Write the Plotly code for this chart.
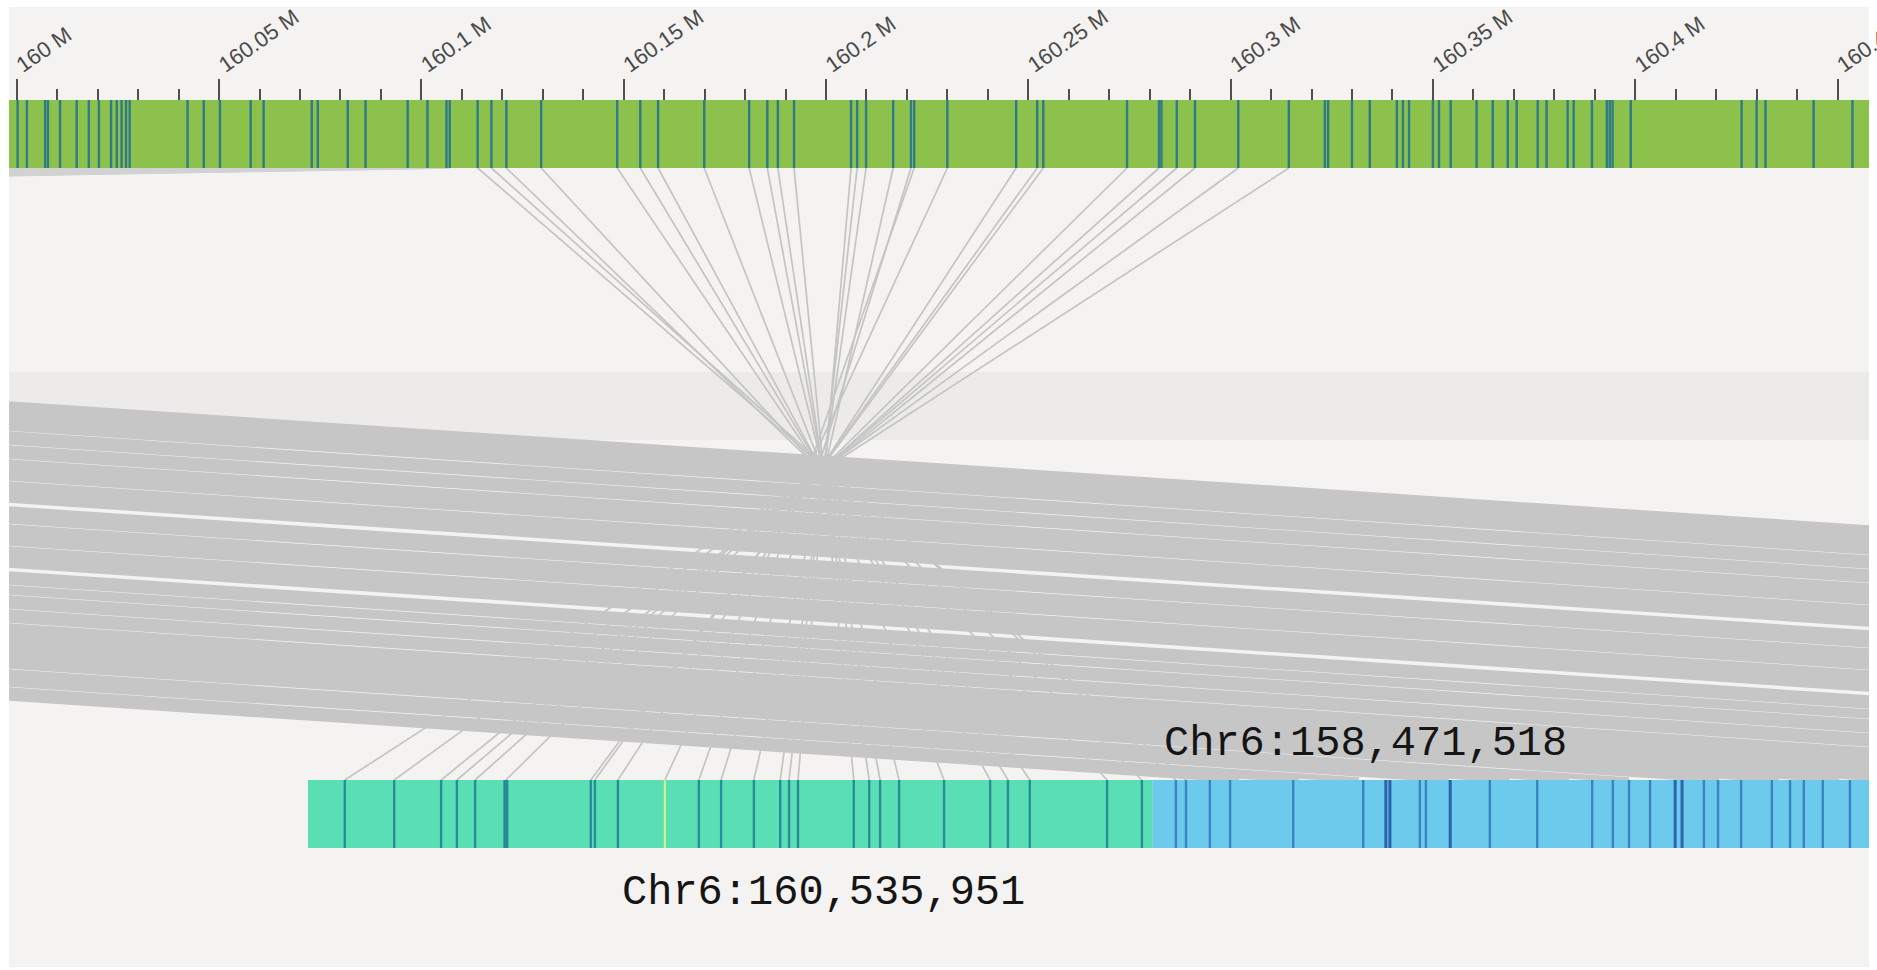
import plotly.graph_objects as go

# ---------------- data ----------------
# top track (Mb) – gene positions (dark stripes)
top_genes_mb = [160.0002, 160.0025, 160.0070, 160.0077, 160.0107, 160.0148, 160.0178, 160.0203,
                160.0233, 160.0247, 160.0259, 160.0270, 160.0279, 160.0422, 160.0462, 160.0502,
                160.0578, 160.0610, 160.0729, 160.0744, 160.0818, 160.0862, 160.0966, 160.1015,
                160.1062, 160.1070, 160.1139, 160.1173, 160.1210, 160.1296, 160.1484, 160.1541,
                160.1585, 160.1699, 160.1810, 160.1855, 160.1881, 160.1921, 160.2062, 160.2077,
                160.2099, 160.2166, 160.2210, 160.2218, 160.2300, 160.2470, 160.2522, 160.2537,
                160.2744, 160.2823, 160.2829, 160.2867, 160.2912, 160.3019, 160.3144, 160.3233,
                160.3241, 160.3300, 160.3344, 160.3411, 160.3426, 160.3441, 160.3500, 160.3515,
                160.3544, 160.3608, 160.3648, 160.3685, 160.3707, 160.3759, 160.3781, 160.3833,
                160.3848, 160.3893, 160.3930, 160.3937, 160.3944, 160.3989, 160.4263, 160.4300,
                160.4322, 160.4441, 160.4537]

# bottom track (kb from start of displayed block)
bot_green_genes_kb = [9.1, 21.3, 32.9, 36.8, 41.3, 48.9, 69.9, 70.9, 76.6, 96.6, 102.1, 110.2,
                      116.7, 118.9, 121.1, 134.9, 138.7, 141.4, 146.1, 157.2, 168.6, 173.0,
                      178.4, 197.5, 206.1]
bot_green_thick_kb = [48.9]
bot_marker_kb = [88.2]
bot_blue_genes_kb = [214.5, 217.0, 222.9, 227.9, 243.5, 260.8, 274.8, 276.3, 292.1, 303.8,
                     317.4, 322.5, 326.5, 331.7, 345.0, 348.5, 354.2, 361.8, 366.3, 369.7,
                     374.4, 381.1]
bot_blue_dark_kb = [266.4, 267.4, 282.3, 337.9, 339.6]
green_block_kb = [0.0, 208.8]
blue_block_kb = [208.8, 400.0]

# inverted links (top Mb -> bottom kb)
fan_top_mb = [160.1139, 160.1173, 160.1210, 160.1296, 160.1484, 160.1541, 160.1585, 160.1699,
              160.1810, 160.1855, 160.1881, 160.1921, 160.2062, 160.2077, 160.2099, 160.2166,
              160.2210, 160.2218, 160.2300, 160.2470, 160.2522, 160.2537, 160.2744, 160.2823,
              160.2867, 160.2912, 160.3019, 160.3144]
fan_bot_kb = [217.0, 214.5, 206.1, 197.5, 178.4, 173.0, 168.6, 157.2, 146.1, 141.4, 138.7, 134.9,
              121.1, 118.9, 116.7, 110.2, 102.1, 96.6, 88.2, 76.6, 70.9, 69.9, 48.9, 41.3,
              36.8, 32.9, 21.3, 9.1]

# collinear block links (top Mb, off view to the left -> bottom kb)
ribbon_top_mb = [159.12313, 159.10830, 159.09347, 159.07864, 159.06381, 159.04898, 159.03415,
                 159.01191, 158.99708, 158.98225, 158.96001, 158.94518, 158.93035, 158.90810,
                 158.89327, 158.87844, 158.86361, 158.84879, 158.82654, 158.81171, 158.79688,
                 158.78205, 158.76722, 158.73385, 158.71903, 158.70420, 158.68937, 158.66712,
                 158.65229, 158.63746, 158.62263, 158.60780, 158.58556, 158.57073, 158.55590,
                 158.54107, 158.52624, 158.49287, 158.47805, 158.46322, 158.44097, 158.42614,
                 158.40390, 158.38907, 158.37424, 158.35199, 158.33716, 158.32233, 158.30009,
                 158.28526, 158.27043, 158.25560, 158.24077, 158.22594, 158.21111, 158.19628,
                 158.18145, 158.16662, 158.15179, 158.12955, 158.11472, 158.09989, 158.08506,
                 158.06282, 158.04799, 158.03316]
ribbon_bot_kb = [1320.07, 1305.24, 1290.41, 1275.58, 1260.75, 1245.92, 1231.09, 1208.85, 1194.02,
                 1179.19, 1156.95, 1142.12, 1127.29, 1105.04, 1090.21, 1075.38, 1060.55, 1045.73,
                 1023.48, 1008.65, 993.82, 978.99, 964.16, 930.80, 915.97, 901.14, 886.31,
                 864.06, 849.23, 834.40, 819.57, 804.74, 782.50, 767.67, 752.84, 738.01,
                 723.18, 689.81, 674.98, 660.16, 637.91, 623.08, 600.84, 586.01, 571.18,
                 548.93, 534.10, 519.27, 497.03, 482.20, 467.37, 452.54, 437.71, 422.88,
                 408.05, 393.22, 378.39, 363.56, 348.73, 326.49, 311.66, 296.83, 282.00,
                 259.76, 244.93, 230.10]

# links from the left part of the top track to a distant bottom region
wedge_top_mb = [160.0025, 160.0070, 160.0107, 160.0148, 160.0178, 160.0203, 160.0233, 160.0259,
                160.0279, 160.0422, 160.0462, 160.0502, 160.0578, 160.0610, 160.0729, 160.0744,
                160.0818, 160.0862, 160.0966, 160.1015, 160.1062, 160.1070]
wedge_bot_kb = [-8702, -8698, -8695, -8690, -8688, -8684, -8680, -8677, -8675, -8660, -8655,
                -8650, -8642, -8638, -8625, -8623, -8615, -8610, -8600, -8594, -8590, -8589]

tick_vals = [160.0, 160.05, 160.1, 160.15, 160.2, 160.25, 160.3, 160.35, 160.4, 160.45]
tick_text = ["160 M", "160.05 M", "160.1 M", "160.15 M", "160.2 M", "160.25 M", "160.3 M",
             "160.35 M", "160.4 M", "160.45 M"]

label_upper = "Chr6:158,471,518"
label_lower = "Chr6:160,535,951"

# ---------------- layout constants ----------------
W, H = 1877, 970
ML, MR, MT, MB = 9, 8, 7, 3
X_RANGE = [159.998072, 160.457786]
X2_RANGE = [-73.90, 385.81]
Y_RANGE = [967, 7]          # vertical layout units (rows)
TOP_Y = (100, 168)
BOT_Y = (780, 848)
BAND_Y = (372, 440)

BG = "#f4f3f1"


def bot_to_top(kb):
    f = (kb - X2_RANGE[0]) / (X2_RANGE[1] - X2_RANGE[0])
    return X_RANGE[0] + f * (X_RANGE[1] - X_RANGE[0])


def seg_trace(xs, y0, y1, color, width, xaxis="x"):
    xx, yy = [], []
    for v in xs:
        xx += [v, v, None]
        yy += [y0, y1, None]
    return go.Scatter(x=xx, y=yy, mode="lines", xaxis=xaxis, yaxis="y",
                      line=dict(color=color, width=width), hoverinfo="skip", showlegend=False)


def link_trace(tops, bots, color, width):
    xx, yy = [], []
    for t, b in zip(tops, bots):
        xx += [t, bot_to_top(b), None]
        yy += [TOP_Y[1], BOT_Y[0], None]
    return go.Scatter(x=xx, y=yy, mode="lines", xaxis="x", yaxis="y",
                      line=dict(color=color, width=width), hoverinfo="skip", showlegend=False)


def rect_trace(x0, x1, y0, y1, color, xaxis="x"):
    return go.Scatter(x=[x0, x1, x1, x0, x0], y=[y0, y0, y1, y1, y0], mode="lines",
                      fill="toself", fillcolor=color, line=dict(width=0, color=color),
                      xaxis=xaxis, yaxis="y", hoverinfo="skip", showlegend=False)


fig = go.Figure()

# links (inverted fan first so that the collinear ribbon covers it)
fig.add_trace(link_trace(fan_top_mb, fan_bot_kb, "#c4c4c4", 1.7))
fig.add_trace(link_trace(wedge_top_mb, wedge_bot_kb, "#d2d2d2", 1.4))
fig.add_trace(link_trace(ribbon_top_mb, ribbon_bot_kb, "#c6c6c6", 5.4))

# top track
fig.add_trace(rect_trace(X_RANGE[0], X_RANGE[1], TOP_Y[0], TOP_Y[1], "#8cc24b"))
fig.add_trace(seg_trace(top_genes_mb, TOP_Y[0], TOP_Y[1], "#2f7b86", 2.4))

# bottom track
fig.add_trace(rect_trace(green_block_kb[0], green_block_kb[1], BOT_Y[0], BOT_Y[1], "#5adfb5", "x2"))
fig.add_trace(rect_trace(blue_block_kb[0], blue_block_kb[1], BOT_Y[0], BOT_Y[1], "#6ccaec", "x2"))
fig.add_trace(seg_trace(bot_green_genes_kb, BOT_Y[0], BOT_Y[1], "#2a8c98", 2.4, "x2"))
fig.add_trace(seg_trace(bot_green_thick_kb, BOT_Y[0], BOT_Y[1], "#2a8796", 5, "x2"))
fig.add_trace(seg_trace(bot_marker_kb, BOT_Y[0], BOT_Y[1], "#d6f28c", 2, "x2"))
fig.add_trace(seg_trace(bot_blue_genes_kb, BOT_Y[0], BOT_Y[1], "#3a84c4", 2.4, "x2"))
fig.add_trace(seg_trace(bot_blue_dark_kb, BOT_Y[0], BOT_Y[1], "#2c64aa", 3, "x2"))

fig.update_layout(
    width=W, height=H,
    margin=dict(l=ML, r=MR, t=MT, b=MB),
    paper_bgcolor="white",
    plot_bgcolor=BG,
    hovermode=False,
    showlegend=False,
    xaxis=dict(
        range=X_RANGE, side="top", anchor="free", position=(Y_RANGE[0] - TOP_Y[0]) / (Y_RANGE[0] - Y_RANGE[1]),
        tickmode="array", tickvals=tick_vals, ticktext=tick_text, tickangle=-35,
        ticks="outside", ticklen=21, tickwidth=2, tickcolor="#4f4f4f",
        ticklabeloverflow="allow", ticklabelstandoff=-5,
        tickfont=dict(family="Liberation Sans, Arial", size=22, color="#4a4a4a"),
        minor=dict(dtick=0.01, tick0=160.0, ticks="outside", ticklen=11, tickwidth=2, tickcolor="#4f4f4f", showgrid=False),
        showgrid=False, zeroline=False, showline=False, automargin=False, fixedrange=True,
    ),
    xaxis2=dict(range=X2_RANGE, overlaying="x", anchor="y", visible=False, fixedrange=True),
    yaxis=dict(range=Y_RANGE, visible=False, fixedrange=True),
    shapes=[dict(type="rect", xref="paper", yref="y", x0=0, x1=1, y0=BAND_Y[0], y1=BAND_Y[1],
                 fillcolor="#ecebe9", line=dict(width=0), layer="below")],
    annotations=[
        dict(text=label_upper, xref="x2", yref="y", x=green_block_kb[1], y=744, xanchor="left",
             yanchor="middle", xshift=9, showarrow=False,
             font=dict(family="Liberation Mono, Courier New, monospace", size=42, color="#151515")),
        dict(text=label_lower, xref="x2", yref="y", x=127.4, y=893, xanchor="center",
             yanchor="middle", showarrow=False,
             font=dict(family="Liberation Mono, Courier New, monospace", size=42, color="#151515")),
    ],
)

fig.write_html("out.html", config={"displayModeBar": False},
               post_script="document.body.style.margin='0px';document.body.style.overflow='hidden';")
